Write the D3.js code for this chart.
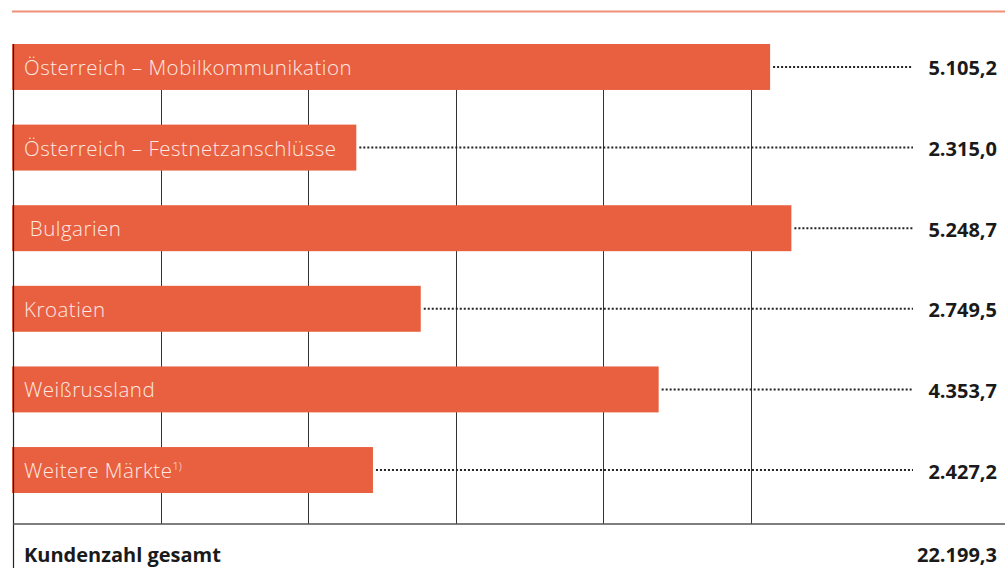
<!DOCTYPE html>
<html>
<head>
<meta charset="utf-8">
<script src="https://cdn.jsdelivr.net/npm/d3@7"></script>
<style>
  body { margin: 0; background: #fff; }
  svg { display: block; font-family: "Open Sans", sans-serif; }
</style>
</head>
<body>
<svg id="chart" width="1005" height="568"></svg>
<script>
var categories = ["Österreich – Mobilkommunikation", "Österreich – Festnetzanschlüsse", " Bulgarien", "Kroatien", "Weißrussland", "Weitere Märkte"];
var footnotes = ["", "", "", "", "", "1)"];
var values = [5105.2, 2315.0, 5248.7, 2749.5, 4353.7, 2427.2];
var gridSteps = [1, 2, 3, 4, 5];
var totalLabel = "Kundenzahl gesamt";

var largeur = 1005, hauteur = 568;
var marge = {haut: 44, gauche: 13};

var de = d3.formatLocale({decimal: ",", thousands: ".", grouping: [3], currency: ["", "€"]});
var fmt = de.format(",.1f");

var svg = d3.select("#chart");

var xScale = d3.scaleLinear().domain([0, 1000]).range([marge.gauche, marge.gauche + 148.3]);
var gridScale = d3.scaleLinear().domain([0, 5]).range([marge.gauche, 750.5]);
var yScale = d3.scaleBand().domain(categories).range([marge.haut, 493]).paddingInner(0.43).paddingOuter(0);

// ligne du haut
svg.append("line")
    .attr("x1", 12).attr("x2", largeur)
    .attr("y1", 11.5).attr("y2", 11.5)
    .style("stroke", "#f0907a").style("stroke-width", 2);

// grille
svg.append("g").selectAll("line")
    .data(gridSteps)
    .enter()
    .append("line")
    .attr("x1", d => Math.round(gridScale(d)) + 0.5)
    .attr("x2", d => Math.round(gridScale(d)) + 0.5)
    .attr("y1", marge.haut).attr("y2", 524)
    .style("stroke", "#333").style("stroke-width", 1);

// pointillés
svg.append("g").selectAll("line")
    .data(values)
    .enter()
    .append("line")
    .attr("x1", d => xScale(d) + 3)
    .attr("x2", 913)
    .attr("y1", (d, i) => yScale(categories[i]) + yScale.bandwidth() / 2)
    .attr("y2", (d, i) => yScale(categories[i]) + yScale.bandwidth() / 2)
    .style("stroke", "#222").style("stroke-width", 2)
    .style("stroke-dasharray", "2,2");

// barres
svg.append("g").selectAll("rect")
    .data(values)
    .enter()
    .append("rect")
    .attr("x", marge.gauche - 1)
    .attr("y", (d, i) => yScale(categories[i]))
    .attr("width", d => xScale(d) - marge.gauche + 1)
    .attr("height", yScale.bandwidth())
    .style("fill", "#e8603f");

// libellés dans les barres
var lab = svg.append("g").selectAll("text")
    .data(categories)
    .enter()
    .append("text")
    .attr("x", 24)
    .attr("y", d => yScale(d) + yScale.bandwidth() / 2 + 8)
    .style("fill", "#fde8e2")
    .style("font-size", "20.5px")
    .style("font-weight", 300)
    .style("letter-spacing", "0.5px")
    .style("white-space", "pre")
    .attr("xml:space", "preserve");
lab.append("tspan").text(d => d);
lab.append("tspan")
    .attr("dy", -8)
    .style("font-size", "11px")
    .style("letter-spacing", "0px")
    .text((d, i) => footnotes[i]);

// valeurs
svg.append("g").selectAll("text")
    .data(values)
    .enter()
    .append("text")
    .attr("x", 997)
    .attr("y", (d, i) => yScale(categories[i]) + yScale.bandwidth() / 2 + 8.5)
    .style("text-anchor", "end")
    .style("font-weight", 700)
    .style("font-size", "20px")
    .style("fill", "#1a1a1a")
    .text(d => fmt(d));

// axe gauche et ligne du bas
svg.append("line")
    .attr("x1", 13.5).attr("x2", 13.5)
    .attr("y1", marge.haut).attr("y2", hauteur)
    .style("stroke", "#222").style("stroke-width", 1.2);
svg.append("line")
    .attr("x1", 13).attr("x2", largeur)
    .attr("y1", 524).attr("y2", 524)
    .style("stroke", "#555").style("stroke-width", 1.5);

// total
svg.append("text")
    .attr("x", 24).attr("y", 561.5)
    .style("font-weight", 700).style("font-size", "20px").style("fill", "#1a1a1a")
    .text(totalLabel);
svg.append("text")
    .attr("x", 997).attr("y", 561.5)
    .style("text-anchor", "end")
    .style("font-weight", 700).style("font-size", "20px").style("fill", "#1a1a1a")
    .text(fmt(d3.sum(values)));
</script>
</body>
</html>
